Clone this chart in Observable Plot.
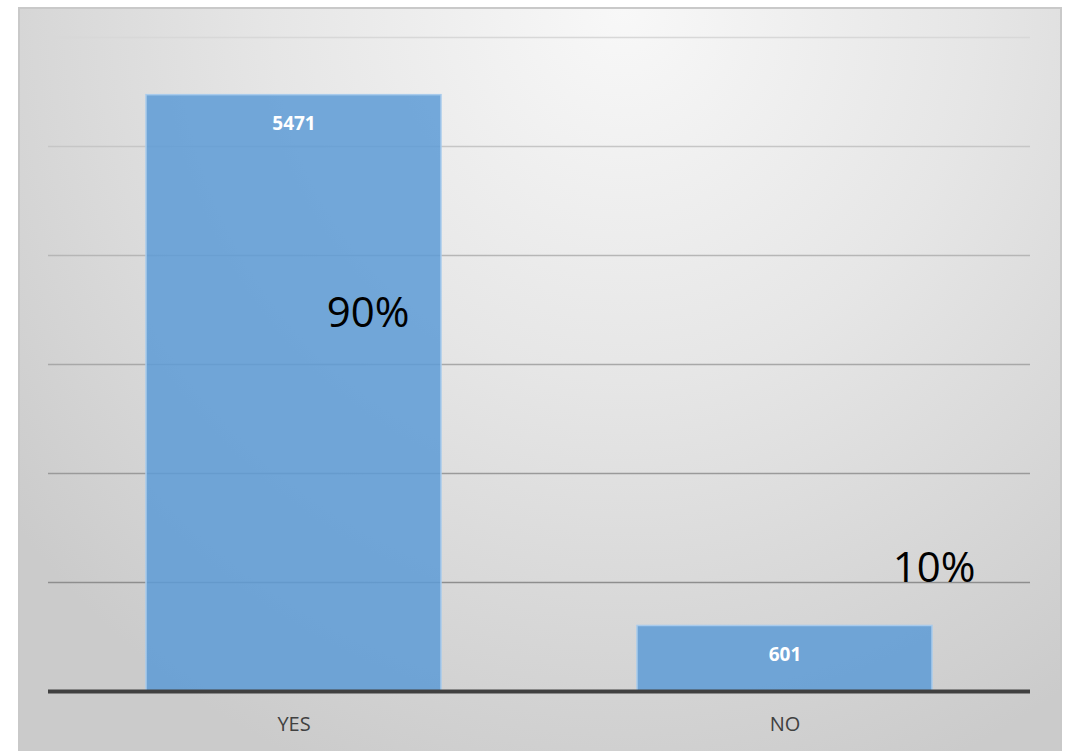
<!DOCTYPE html>
<html>
<head>
<meta charset="utf-8">
<script src="https://cdn.jsdelivr.net/npm/d3@7"></script>
<script src="https://cdn.jsdelivr.net/npm/@observablehq/plot@0.6"></script>
<style>
  html, body { margin: 0; padding: 0; background: #ffffff; }
  #wrap { position: relative; width: 1067px; height: 751px; overflow: hidden; }
  #frame {
    position: absolute; left: 18px; top: 7px; width: 1040px; height: 750px;
    border: 2px solid #c9c9c9;
    background: radial-gradient(ellipse 75% 110% at 58% 0%, #f8f8f8 0%, #e6e6e6 45%, #cbcbcb 100%);
  }
  #chart { position: absolute; left: 0; top: 0; }
</style>
</head>
<body>
<div id="wrap">
  <div id="frame"></div>
  <div id="chart"></div>
</div>
<script>
const categories = ["YES", "NO"];
const counts = [5471, 601];
const percents = ["90%", "10%"];
const gridValues = [1000, 2000, 3000, 4000, 5000, 6000];
const gridColors = ["#8e8e8e", "#9a9a9a", "#a8a8a8", "#b6b6b6", "#c6c6c6", "#d8d8d8"];

const data = categories.map((c, i) => ({category: c, count: counts[i], pct: percents[i]}));
const grid = gridValues.map((v, i) => ({v, color: gridColors[i]}));

const chart = Plot.plot({
  width: 1067,
  height: 751,
  marginLeft: 48,
  marginRight: 37,
  marginTop: 37,
  marginBottom: 60,
  style: {background: "transparent", fontFamily: "'Open Sans', sans-serif"},
  x: {domain: categories, paddingInner: 0.4, paddingOuter: 0.2, label: null},
  y: {domain: [0, 6000], axis: null},
  marks: [
    Plot.ruleY(grid, {y: "v", stroke: "color", strokeWidth: 1.5}),
    Plot.barY(data, {x: "category", y: "count", fill: "#5d9bd6", fillOpacity: 0.85, stroke: "#a9cbec", strokeWidth: 1.5}),
    Plot.ruleY([0], {stroke: "#404040", strokeWidth: 4}),
    Plot.text(data, {x: "category", y: "count", text: d => String(d.count), dy: 29, fill: "white", fontWeight: "bold", fontSize: 19}),
    Plot.text(data.slice(0, 1), {x: "category", y: "count", text: "pct", dx: 74, dy: 218, fill: "#000", fontSize: 42, fontFamily: "'Open Sans', sans-serif"}),
    Plot.text(data.slice(1, 2), {x: "category", y: "count", text: "pct", dx: 149, dy: -57, fill: "#000", fontSize: 42, fontFamily: "'Open Sans', sans-serif"}),
    Plot.axisX({tickSize: 0, tickPadding: 25, fontSize: 20, fill: "#404040", label: null})
  ]
});
document.getElementById("chart").appendChild(chart);
</script>
</body>
</html>
